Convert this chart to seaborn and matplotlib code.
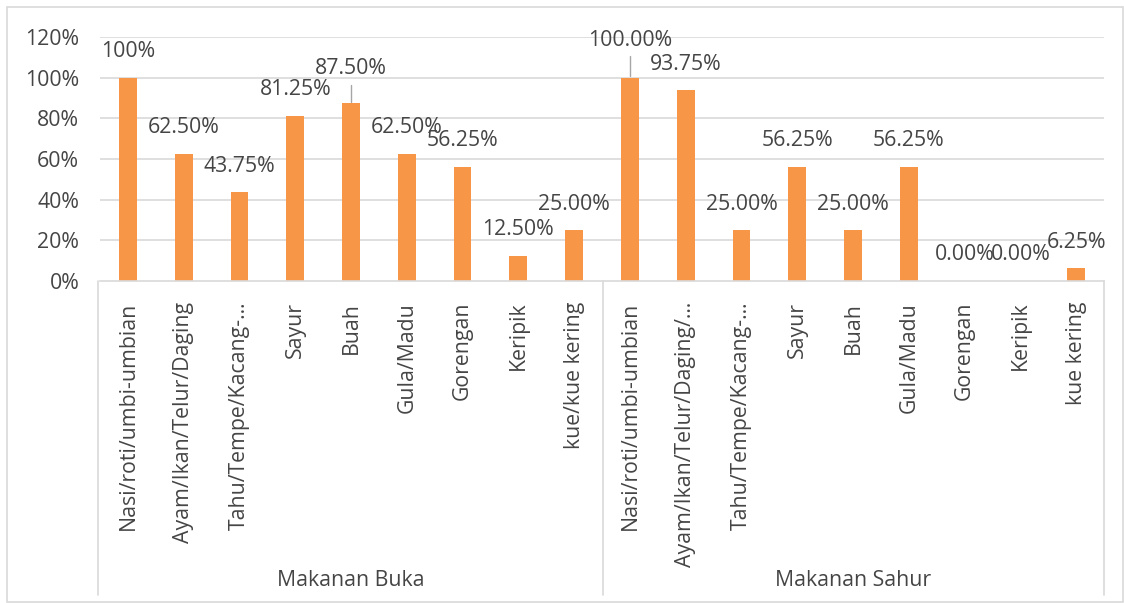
import pandas as pd
import matplotlib.pyplot as plt
import seaborn as sns
from matplotlib.lines import Line2D
from matplotlib.patches import Rectangle

# Data
groups = ['Makanan Buka', 'Makanan Sahur']
items_buka = ['Nasi/roti/umbi-umbian', 'Ayam/Ikan/Telur/Daging', 'Tahu/Tempe/Kacang-…',
              'Sayur', 'Buah', 'Gula/Madu', 'Gorengan', 'Keripik', 'kue/kue kering']
items_sahur = ['Nasi/roti/umbi-umbian', 'Ayam/Ikan/Telur/Daging/…', 'Tahu/Tempe/Kacang-…',
               'Sayur', 'Buah', 'Gula/Madu', 'Gorengan', 'Keripik', 'kue kering']
values_buka = [100, 62.5, 43.75, 81.25, 87.5, 62.5, 56.25, 12.5, 25.0]
values_sahur = [100, 93.75, 25.0, 56.25, 25.0, 56.25, 0.0, 0.0, 6.25]
labels_buka = ['100%', '62.50%', '43.75%', '81.25%', '87.50%', '62.50%', '56.25%', '12.50%', '25.00%']
labels_sahur = ['100.00%', '93.75%', '25.00%', '56.25%', '25.00%', '56.25%', '0.00%', '0.00%', '6.25%']
yticks = [0, 20, 40, 60, 80, 100, 120]

df = pd.DataFrame({
    'group': [groups[0]] * len(items_buka) + [groups[1]] * len(items_sahur),
    'item': items_buka + items_sahur,
    'value': values_buka + values_sahur,
    'label': labels_buka + labels_sahur,
})
df['key'] = df['group'] + '|' + df['item']

bar_color = '#F79646'
text_color = '#454545'
grid_color = '#D9D9D9'
fs = 15.3

sns.set_style('white')
plt.rcParams['font.family'] = ['Open Sans', 'DejaVu Sans']

fig = plt.figure(figsize=(11.24, 6.03), dpi=100)
W, H = 1124, 603
x0, x1, ytop, ybot = 100, 1104, 37, 281
ax = fig.add_axes([x0 / W, 1 - ybot / H, (x1 - x0) / W, (ybot - ytop) / H])

sns.barplot(data=df, x='key', y='value', order=list(df['key']), color=bar_color,
            width=0.32, saturation=1, linewidth=0, ax=ax)

ax.set_ylim(0, 120)
ax.set_xlim(-0.5, len(df) - 0.5)
ax.set_yticks(yticks)
ax.set_yticklabels([f'{v}%' for v in yticks], fontsize=fs, color=text_color)
ax.set_xticks(range(len(df)))
ax.set_xticklabels(df['item'], rotation=90, fontsize=fs, color=text_color, va='top')
ax.tick_params(axis='y', length=0, pad=15)
ax.tick_params(axis='x', length=0, pad=15)
ax.set_xlabel('')
ax.set_ylabel('')
for y in yticks[1:]:
    ax.axhline(y, color=grid_color, lw=1.2, zorder=0)
for s in ['top', 'right', 'left']:
    ax.spines[s].set_visible(False)
ax.spines['bottom'].set_color(grid_color)
ax.spines['bottom'].set_linewidth(1.2)

# data labels (two of them pulled up with leader lines, as in the original)
leader = {4: 17, 9: 18.5}
for i, (v, lab) in enumerate(zip(df['value'], df['label'])):
    off = leader.get(i, 12.8)
    ax.text(i, v + off, lab, ha='center', va='center', fontsize=fs, color=text_color,
            clip_on=False)
    if i in leader:
        ax.plot([i, i], [v + 0.7, v + off - 8], color='#A6A6A6', lw=1, clip_on=False)

# category group box below the axis
fx = lambda px: px / W
fy = lambda py: 1 - py / H
for px in [x0 - 2, (x0 + x1) / 2 + 1, x1]:
    fig.add_artist(Line2D([fx(px), fx(px)], [fy(ybot), fy(595)], color=grid_color, lw=1.2))
n = len(items_buka)
for k, g in enumerate(groups):
    cx = ax.transData.transform((k * n + (n - 1) / 2, 0))[0] / fig.dpi / fig.get_figwidth()
    fig.text(cx, fy(580), g, ha='center', va='center', fontsize=fs, color=text_color)

# outer chart frame
fig.add_artist(Rectangle((fx(7), fy(602)), fx(1116), 595 / H, fill=False,
                         edgecolor=grid_color, lw=1.2))

fig.savefig('out.png', dpi=100)
